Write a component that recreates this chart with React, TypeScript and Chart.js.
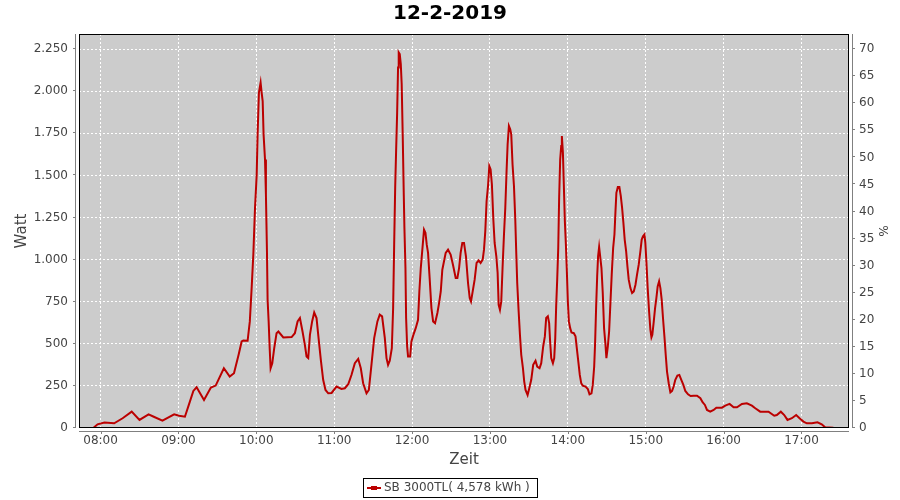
import { useEffect, useRef } from "react";
import { Chart, registerables } from "chart.js";

Chart.register(...registerables);

// ---------------- data ----------------
const chartTitle = "12-2-2019";
const seriesLabel = "SB 3000TL( 4,578 kWh )";
const xAxisTitle = "Zeit";
const yAxisTitle = "Watt";
const y2AxisTitle = "%";

// time of day in minutes after midnight
const timeMinutes = [
  474.4, 477.7, 483, 490.5, 497, 504, 510, 517, 521, 527.7, 536.7, 540.5, 545, 548, 551.5, 554, 559.7, 565, 568.7,
  575, 579.5, 582.8, 586.5, 588.7, 590, 593.3, 595, 596.4, 597.7, 599, 600.3, 601, 602, 603.3, 604.1, 604.9, 605.6,
  606.7, 607.4, 608.2, 608.7, 609.5, 610.3, 611, 612.3, 613.8, 615.6, 617, 620.8, 627.2, 629.7, 631.8, 633.6, 635.6,
  637.4, 638.7, 640, 641.3, 643, 644.6, 646.4, 647.7, 649.7, 651.5, 653.3, 655.4, 658, 661.8, 665.6, 668.2, 670.8,
  673.3, 675.9, 678.5, 680.5, 682.3, 684.9, 686.7, 688.7, 690.8, 693.3, 695.1, 696.9, 699, 700.3, 701.5, 702.8,
  704.4, 705.4, 706.2, 707, 707.7, 708.5, 709.2, 709.7, 710.5, 711.3, 712, 712.8, 713.6, 714.1, 714.9, 715.4, 716.2,
  716.9, 718.5, 719.5, 721, 722.8, 724.6, 725.6, 726.7, 727.9, 729.2, 730.3, 731.3, 732.3, 733.6, 734.9, 736.2,
  737.7, 739.5, 740.8, 742.1, 743.3, 744.6, 745.9, 747.7, 749.7, 751.5, 753.6, 754.9, 756.2, 757.4, 758.7, 760,
  761.5, 763.1, 764.4, 765.4, 766.7, 768.2, 769.7, 771.3, 772.8, 774.4, 775.4, 776.4, 777.4, 778.5, 779.5, 780.5,
  781.5, 782.6, 783.6, 784.9, 785.9, 786.7, 787.7, 788.7, 789.7, 790.8, 791.8, 792.8, 793.6, 794.6, 795.6, 796.4,
  797.4, 798.5, 799.5, 800.3, 801, 802.1, 803.1, 804.1, 805.4, 806.4, 807.4, 809, 810.3, 811.8, 813.3, 815.1, 816.4,
  818.2, 819.5, 821, 822.3, 823.3, 824.6, 825.6, 826.3, 827.2, 828.5, 829.5, 830.3, 831, 831.8, 832.6, 833.3, 834.1,
  834.9, 835.4, 836.2, 836.9, 837.7, 838.5, 839.2, 840, 840.8, 841.8, 842.8, 844.6, 845.9, 847.2, 848.2, 849.2,
  850.3, 851.5, 853.6, 855.4, 856.7, 858.2, 859.2, 860.3, 861, 861.8, 862.6, 863.3, 864.1, 864.9, 865.9, 866.9,
  867.9, 869, 869.7, 870.8, 871.8, 872.8, 873.8, 874.9, 875.9, 876.7, 877.4, 878.5, 879.7, 880.8, 881.8, 882.8,
  883.8, 884.9, 885.9, 886.9, 888.2, 889.5, 890.8, 892.1, 893.3, 894.6, 895.9, 896.9, 897.9, 899, 899.7, 900.5,
  901.5, 902.6, 903.6, 904.4, 905.1, 906.2, 907.2, 908.2, 909.2, 910.3, 911.3, 912.3, 913.3, 914.4, 915.4, 916.4,
  917.7, 919, 920.3, 921.5, 922.8, 924.4, 925.9, 927.4, 929, 930.5, 932.6, 934.6, 936.9, 939.5, 942.1, 943.8, 945.6,
  947.2, 949.7, 952.3, 954.4, 958.7, 961.3, 964.6, 967.7, 970.3, 974.1, 977.9, 981.8, 984.4, 988.2, 994.6, 999,
  1001, 1004.1, 1006.7, 1009.2, 1012.6, 1015.9, 1018.5, 1021.5, 1024.1, 1028, 1032.3, 1035.6, 1038.2, 1044.6,
];

const wattValues = [
  0, 22, 32, 28, 58, 97, 48, 81, 67, 44, 81, 73, 67, 137, 220, 242, 167, 240, 252,
  355, 305, 325, 440, 514, 520, 518, 633, 831, 1030, 1307, 1506, 1744, 1992, 2051, 1992, 1942, 1744,
  1595, 1387, 1050, 762, 633, 474, 355, 385, 474, 563, 573, 538, 540, 563, 633, 653, 573,
  494, 425, 415, 553, 633, 686, 653, 553, 405, 286, 226, 206, 208, 246, 232, 236, 260,
  315, 385, 410, 355, 266, 206, 226, 375, 534, 633, 673, 663, 534, 415, 375, 400,
  474, 712, 1089, 1436, 1645, 1873, 2141, 2230, 2220, 2161, 2042, 1734, 1387, 1188, 950, 653, 484,
  425, 425, 514, 553, 593, 643, 811, 950, 1059, 1178, 1159, 1089, 1040, 881, 712, 633,
  623, 683, 742, 811, 940, 990, 1040, 1059, 1030, 970, 891, 891, 950, 1040, 1099, 1099,
  1020, 861, 772, 752, 811, 881, 980, 996, 980, 1000, 1059, 1169, 1347, 1436, 1556, 1536,
  1446, 1238, 1099, 1020, 921, 732, 702, 752, 950, 1149, 1307, 1526, 1684, 1794, 1774, 1744,
  1565, 1436, 1238, 1030, 861, 692, 553, 435, 355, 276, 226, 196, 236, 286, 375, 399, 365,
  355, 385, 484, 544, 653, 663, 623, 520, 415, 385, 415, 534, 722, 881, 1069, 1367, 1595,
  1675, 1734, 1635, 1446, 1228, 1089, 940, 752, 633, 593, 567, 563, 544, 454, 385, 315,
  266, 252, 246, 232, 200, 206, 256, 365, 504, 722, 901, 1020, 1075, 1020, 950, 802,
  593, 494, 415, 484, 573, 742, 911, 1069, 1149, 1288, 1397, 1431, 1431, 1377, 1307, 1218,
  1119, 1050, 960, 881, 831, 802, 811, 851, 911, 970, 1050, 1119, 1139, 1149, 1099, 990,
  831, 692, 583, 538, 553, 633, 712, 772, 841, 871, 831, 762, 653, 544, 435, 335,
  266, 212, 220, 246, 286, 311, 315, 286, 256, 220, 200, 190, 192, 192, 177, 153, 137,
  107, 97, 107, 121, 121, 133, 143, 123, 123, 143, 147, 133, 117, 97, 97, 73,
  77, 97, 77, 48, 58, 77, 58, 38, 28, 28, 34, 22, 4, 2,
];

const xMinMinutes = 463.4;
const xMaxMinutes = 1056.6;
const hourStep = 60;
const wattMax = 2340;
const wattStep = 250;
const percentMax = 72.8;
const percentStep = 5;

// ---------------- helpers ----------------
const FONT = "'DejaVu Sans', 'Noto Sans', sans-serif";
const pad2 = (n: number) => (n < 10 ? "0" + n : "" + n);
const fmtTime = (m: number) => {
  const h = Math.floor(m / 60);
  const mm = Math.round(m - h * 60);
  return pad2(h) + ":" + pad2(mm);
};
const fmtThousands = (v: number) =>
  Math.round(v)
    .toString()
    .replace(/\B(?=(\d{3})+(?!\d))/g, ".");

const jfreePlugin = {
  id: "jfreeStyle",
  beforeDraw(chart: any) {
    const { ctx, chartArea: a } = chart;
    ctx.save();
    ctx.fillStyle = "#cccccc";
    ctx.fillRect(a.left, a.top, a.right - a.left, a.bottom - a.top);
    ctx.restore();
  },
  afterDraw(chart: any) {
    const { ctx, chartArea: a } = chart;
    const xs = chart.scales.x;
    const yl = chart.scales.y;
    const yr = chart.scales.y2;
    ctx.save();
    // plot outline
    ctx.strokeStyle = "#000000";
    ctx.lineWidth = 1;
    ctx.strokeRect(a.left + 0.5, a.top + 0.5, a.right - a.left - 1, a.bottom - a.top - 1);

    // axis lines (offset from plot like JFreeChart)
    ctx.strokeStyle = "#808080";
    ctx.beginPath();
    const lx = a.left - 3.5;
    ctx.moveTo(lx, a.top);
    ctx.lineTo(lx, a.bottom);
    const rx = a.right + 3.5;
    ctx.moveTo(rx, a.top);
    ctx.lineTo(rx, a.bottom);
    const by = a.bottom + 3.5;
    ctx.moveTo(a.left, by);
    ctx.lineTo(a.right, by);
    // tick marks
    yl.ticks.forEach((t: any) => {
      const p = Math.round(yl.getPixelForValue(t.value)) - 0.5;
      ctx.moveTo(lx - 2.5, p);
      ctx.lineTo(lx, p);
    });
    yr.ticks.forEach((t: any) => {
      const p = Math.round(yr.getPixelForValue(t.value)) - 0.5;
      ctx.moveTo(rx, p);
      ctx.lineTo(rx + 2.5, p);
    });
    xs.ticks.forEach((t: any) => {
      const p = Math.round(xs.getPixelForValue(t.value)) + 0.5;
      ctx.moveTo(p, by);
      ctx.lineTo(p, by + 2.5);
    });
    ctx.stroke();

    // legend
    const ds = chart.data.datasets[0];
    ctx.font = "12px " + FONT;
    const tw = ctx.measureText(ds.label).width;
    const sampleW = 14;
    const boxW = Math.round(4 + sampleW + 3 + tw + 7);
    const boxH = 19;
    const boxX = Math.round(chart.width / 2 - boxW / 2);
    const boxY = 478;
    ctx.strokeStyle = "#000000";
    ctx.strokeRect(boxX + 0.5, boxY + 0.5, boxW, boxH);
    const cy = boxY + boxH / 2 + 0.5;
    ctx.strokeStyle = ds.borderColor;
    ctx.lineWidth = 2;
    ctx.beginPath();
    ctx.moveTo(boxX + 4, cy);
    ctx.lineTo(boxX + 4 + sampleW, cy);
    ctx.stroke();
    ctx.fillStyle = ds.borderColor;
    ctx.fillRect(boxX + 4 + sampleW / 2 - 3, cy - 2, 6, 4);
    ctx.fillStyle = "#444444";
    ctx.textBaseline = "middle";
    ctx.textAlign = "left";
    ctx.fillText(ds.label, boxX + 4 + sampleW + 3, cy);
    ctx.restore();
  },
};

export default function App() {
  const canvasRef = useRef<HTMLCanvasElement | null>(null);

  useEffect(() => {
    document.body.style.margin = "0";
    const canvas = canvasRef.current;
    if (!canvas) return;
    Chart.defaults.font.family = FONT;
    const points = timeMinutes.map((t, i) => ({ x: t, y: wattValues[i] }));
    const chart = new Chart(canvas, {
      type: "line",
      data: {
        datasets: [
          {
            label: seriesLabel,
            data: points,
            borderColor: "#bb0000",
            backgroundColor: "#bb0000",
            borderWidth: 2,
            pointRadius: 0,
            tension: 0,
            fill: false,
            yAxisID: "y",
          },
        ],
      },
      options: {
        animation: false,
        responsive: false,
        devicePixelRatio: 1,
        parsing: false as any,
        normalized: true,
        layout: { padding: { left: 0, right: 0, top: 0, bottom: 27 } },
        plugins: {
          legend: { display: false },
          tooltip: { enabled: false },
          title: {
            display: true,
            text: chartTitle,
            color: "#000000",
            font: { family: FONT, size: 20, weight: "bold", lineHeight: 1.2 },
            padding: { top: 2, bottom: 8 },
          },
        },
        scales: {
          x: {
            type: "linear",
            min: xMinMinutes,
            max: xMaxMinutes,
            afterFit: (s: any) => {
              s.height = 45;
            },
            ticks: {
              stepSize: hourStep,
              includeBounds: false,
              autoSkip: false,
              maxRotation: 0,
              padding: 6,
              color: "#444444",
              font: { family: FONT, size: 12 },
              callback: (v: any) => fmtTime(Number(v)),
            },
            grid: { color: "#ffffff", lineWidth: 1, drawTicks: false },
            border: { display: false, dash: [2, 2] },
            title: {
              display: true,
              text: xAxisTitle,
              color: "#444444",
              font: { family: FONT, size: 15, lineHeight: 1.2 },
              padding: { top: 0, bottom: 4 },
            },
          },
          y: {
            type: "linear",
            position: "left",
            min: 0,
            max: wattMax,
            afterFit: (s: any) => {
              s.width = 79;
            },
            ticks: {
              stepSize: wattStep,
              includeBounds: false,
              padding: 11,
              color: "#444444",
              font: { family: FONT, size: 12 },
              callback: (v: any) => fmtThousands(Number(v)),
            },
            grid: { color: "#ffffff", lineWidth: 1, drawTicks: false },
            border: { display: false, dash: [2, 2] },
            title: {
              display: true,
              text: yAxisTitle,
              color: "#444444",
              font: { family: FONT, size: 15, lineHeight: 1.2 },
              padding: { top: 13, bottom: 0 },
            },
          },
          y2: {
            type: "linear",
            position: "right",
            min: 0,
            max: percentMax,
            afterFit: (s: any) => {
              s.width = 51;
            },
            ticks: {
              stepSize: percentStep,
              includeBounds: false,
              padding: 10,
              color: "#444444",
              font: { family: FONT, size: 12 },
            },
            grid: { display: false, drawTicks: false },
            border: { display: false },
            title: {
              display: true,
              text: y2AxisTitle,
              color: "#444444",
              font: { family: FONT, size: 12, lineHeight: 1.2 },
              padding: { top: 11, bottom: 0 },
            },
          },
        },
      },
      plugins: [jfreePlugin],
    } as any);
    return () => chart.destroy();
  }, []);

  return (
    <div style={{ position: "absolute", left: 0, top: 0, width: 900, height: 500, background: "#ffffff" }}>
      <canvas ref={canvasRef} width={900} height={500} style={{ display: "block", width: 900, height: 500 }} />
    </div>
  );
}
